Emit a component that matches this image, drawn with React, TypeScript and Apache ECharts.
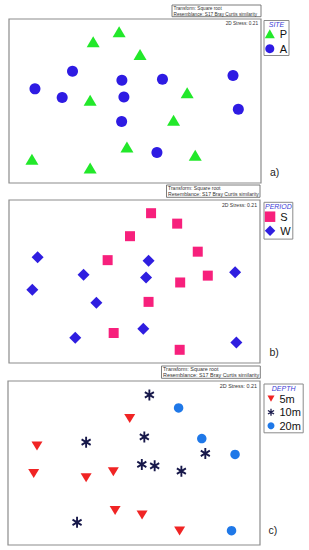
import React, { useEffect, useRef } from "react";
import * as echarts from "echarts";

// NMDS ordination coordinates (arbitrary units, 0-100 within each panel)
const siteP: number[][] = [
  [43.7, 92.2], [33.4, 86.1], [52.0, 78.4], [70.7, 55.0], [32.2, 50.5],
  [65.3, 38.3], [46.8, 22.0], [73.9, 16.9], [9.1, 14.5], [32.2, 9.2],
];
const siteA: number[][] = [
  [25.2, 68.2], [44.8, 62.7], [60.9, 63.3], [88.9, 65.6], [10.3, 57.4],
  [21.1, 52.2], [45.6, 52.5], [91.0, 45.0], [44.7, 37.5], [58.7, 18.6],
];
const periodS: number[][] = [
  [56.6, 91.9], [67.0, 85.5], [48.2, 77.8], [75.2, 68.3], [39.3, 63.1],
  [79.2, 53.6], [68.2, 49.4], [55.6, 37.5], [41.7, 18.4], [68.0, 8.1],
];
const periodW: number[][] = [
  [11.4, 64.9], [55.6, 62.8], [29.7, 54.1], [54.6, 52.4], [90.1, 55.7],
  [9.3, 44.9], [34.8, 36.9], [53.5, 21.0], [26.4, 15.5], [90.6, 12.6],
];
const depth5: number[][] = [
  [48.3, 77.1], [11.5, 60.3], [10.2, 43.6], [31.0, 41.0], [41.8, 44.6],
  [42.5, 21.1], [53.2, 18.3], [68.1, 8.5],
];
const depth10: number[][] = [
  [56.1, 91.5], [31.0, 62.7], [54.1, 65.9], [78.3, 55.8], [53.1, 49.1],
  [58.2, 48.3], [68.8, 45.0], [27.4, 13.8],
];
const depth20: number[][] = [
  [67.7, 83.6], [76.9, 64.9], [90.1, 55.2], [88.7, 8.7],
];

const panelLabels = ["a)", "b)", "c)"];
const factorTitles = ["SITE", "PERIOD", "DEPTH"];
const transformText = "Transform: Square root";
const resemblanceText = "Resemblance: S17 Bray Curtis similarity";
const stressText = "2D Stress: 0.21";

const FONT = "'Liberation Sans', Arial, sans-serif";
const ASTERISK =
  "path://M-1.8,-10L1.8,-10L1.8,10L-1.8,10Z M7.8,6.6L-9.6,-3.4L-7.8,-6.6L9.6,3.4Z M-7.8,6.6L-9.6,3.4L7.8,-6.6L9.6,-3.4Z";
const DOWN_TRIANGLE = "path://M0,0L10,0L5,9Z";

const grids = [
  { left: 9, top: 19, width: 252, height: 164 },
  { left: 9, top: 200, width: 251, height: 163 },
  { left: 8, top: 381, width: 252, height: 164 },
];

const headerBoxes = [
  { x: 172, y: 5, w: 89, h: 11.7, fs: 4.7 },
  { x: 166.5, y: 185, w: 93.5, h: 12.3, fs: 5.1 },
  { x: 161.5, y: 366, w: 98.8, h: 12.3, fs: 5.4 },
];
const legendBoxes = [
  { x: 264, y: 20.5, w: 25, h: 35 },
  { x: 264, y: 202.3, w: 28.8, h: 36.8 },
  { x: 264, y: 384, w: 39.2, h: 48.8 },
];
const labelPos = [
  { x: 270, y: 172 },
  { x: 269.5, y: 351.7 },
  { x: 268.5, y: 530 },
];

export default function App() {
  const ref = useRef<HTMLDivElement>(null);
  useEffect(() => {
    if (!ref.current) return;
    const chart = echarts.init(ref.current, null, { renderer: "svg" });

    const xAxis = grids.map((_, i) => ({
      type: "value", gridIndex: i, min: 0, max: 100, show: false,
    }));
    const yAxis = grids.map((_, i) => ({
      type: "value", gridIndex: i, min: 0, max: 100, show: false,
    }));

    const mk = (name: string, data: number[][], gi: number, symbol: string, size: any, color: string) => ({
      name, type: "scatter", xAxisIndex: gi, yAxisIndex: gi, data, symbol,
      symbolSize: size,
      itemStyle: { color, opacity: 1 },
      emphasis: { disabled: true },
    });

    const graphic: any[] = [];
    headerBoxes.forEach((b, i) => {
      graphic.push({ type: "rect", shape: { x: b.x, y: b.y, width: b.w, height: b.h },
        style: { fill: "#fff", stroke: "#6e6e6e", lineWidth: 0.9 } });
      graphic.push({ type: "text", x: b.x + 1.5, y: b.y + b.h * 0.28,
        style: { text: transformText, fontSize: b.fs, fontFamily: FONT, fill: "#333", verticalAlign: "middle" } });
      graphic.push({ type: "text", x: b.x + 1.5, y: b.y + b.h * 0.77,
        style: { text: resemblanceText, fontSize: b.fs, fontFamily: FONT, fill: "#333", verticalAlign: "middle" } });
      const g = grids[i];
      graphic.push({ type: "text", x: g.left + g.width - 3, y: g.top + 4.8,
        style: { text: stressText, fontSize: b.fs, fontFamily: FONT, fill: "#333", align: "right", verticalAlign: "middle" } });
    });
    legendBoxes.forEach((b, i) => {
      graphic.push({ type: "rect", shape: { x: b.x, y: b.y, width: b.w, height: b.h },
        style: { fill: "#fff", stroke: "#8a8a8a", lineWidth: 1 } });
      graphic.push({ type: "text", x: b.x + b.w / 2, y: b.y + 4.2,
        style: { text: factorTitles[i], fontSize: 7, fontStyle: "italic", fontFamily: FONT, fill: "#3b3bd6", align: "center", verticalAlign: "middle" } });
    });
    labelPos.forEach((p, i) => {
      graphic.push({ type: "text", x: p.x, y: p.y,
        style: { text: panelLabels[i], fontSize: 10.5, fontFamily: FONT, fill: "#222", verticalAlign: "middle" } });
    });

    const legendBase = {
      orient: "vertical", padding: 0, selectedMode: false,
      textStyle: { fontSize: 11, fontFamily: FONT, color: "#111" },
    };

    chart.setOption({
      animation: false,
      backgroundColor: "#fff",
      grid: grids.map((g) => ({
        ...g, show: true, borderColor: "#8c8c8c", borderWidth: 1.2, backgroundColor: "#fff", containLabel: false,
      })),
      xAxis, yAxis,
      legend: [
        { ...legendBase, data: ["P", "A"], left: 264.8, top: 28.2, itemWidth: 10, itemHeight: 9, itemGap: 4 },
        { ...legendBase, data: ["S", "W"], left: 264.8, top: 211.2, itemWidth: 10.5, itemHeight: 10.5, itemGap: 3 },
        { ...legendBase, data: ["5m", "10m", "20m"], left: 267.5, top: 393.2, itemWidth: 7, itemHeight: 7, itemGap: 2.5 },
      ],
      series: [
        mk("P", siteP, 0, "triangle", [13, 11], "#22e82a"),
        mk("A", siteA, 0, "circle", 11, "#2e1be3"),
        mk("S", periodS, 1, "rect", 10, "#f7207c"),
        mk("W", periodW, 1, "diamond", 12, "#2f1ee0"),
        mk("5m", depth5, 2, DOWN_TRIANGLE, [11, 9], "#f02424"),
        mk("10m", depth10, 2, ASTERISK, [10, 11], "#17184a"),
        mk("20m", depth20, 2, "circle", 9.5, "#1f78e8"),
      ],
      graphic,
    });
    return () => chart.dispose();
  }, []);
  return (
    <div
      ref={ref}
      style={{ position: "absolute", left: 0, top: 0, width: 309, height: 550 }}
    />
  );
}
